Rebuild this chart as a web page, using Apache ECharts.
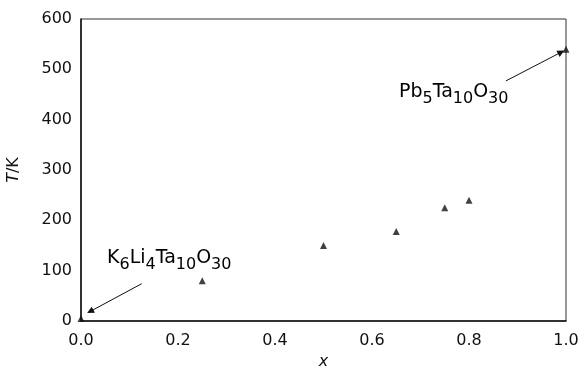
<!DOCTYPE html>
<html>
<head>
<meta charset="utf-8">
<script src="https://cdn.jsdelivr.net/npm/echarts@6/dist/echarts.min.js"></script>
<style>
  html, body { margin: 0; padding: 0; background: #fff; }
  #main { width: 586px; height: 370px; }
</style>
</head>
<body>
<div id="main"></div>
<script>
// composition x vs transition temperature
var xValues = [0, 0.25, 0.5, 0.65, 0.75, 0.8, 1.0];
var tValues = [5, 80, 150, 178, 225, 240, 540];

// annotation arrows, [from, to] in data units
var arrowK = [[0.125, 74], [0.019, 19]];
var arrowPb = [[0.876, 477], [0.99, 534]];

var FONT = '"DejaVu Sans", sans-serif';
var INK = '#111';

var chart = echarts.init(document.getElementById('main'));

var points = xValues.map(function (x, i) { return [x, tValues[i]]; });

var richStyle = {
  n: { fontSize: 19, fontFamily: FONT, color: INK, verticalAlign: 'top', lineHeight: 26 },
  s: { fontSize: 16, fontFamily: FONT, color: INK, verticalAlign: 'top', lineHeight: 26, padding: [8, 0, 0, 0] }
};

var option = {
  animation: false,
  backgroundColor: '#fff',
  grid: {
    left: 81, right: 20, top: 19, bottom: 49,
    outerBoundsMode: 'none',
    show: true, borderColor: '#333', borderWidth: 1, backgroundColor: 'transparent'
  },
  xAxis: {
    type: 'value', min: 0, max: 1, interval: 0.2,
    name: 'x', nameLocation: 'middle', nameGap: 30,
    nameTextStyle: { fontFamily: FONT, fontSize: 16, fontStyle: 'italic', color: INK },
    axisLine: { lineStyle: { color: INK, width: 1.5 } },
    axisTick: { show: false },
    splitLine: { show: false },
    axisLabel: {
      fontFamily: FONT, fontSize: 16, color: INK, margin: 12,
      formatter: function (v) { return v.toFixed(1); }
    }
  },
  yAxis: {
    type: 'value', min: 0, max: 600, interval: 100,
    name: '{i|T}/K', nameLocation: 'middle', nameGap: 59,
    nameTextStyle: {
      fontFamily: FONT, fontSize: 16, color: INK,
      rich: { i: { fontFamily: FONT, fontSize: 16, fontStyle: 'italic', color: INK } }
    },
    axisLine: { lineStyle: { color: INK, width: 1.5 } },
    axisTick: { show: false },
    splitLine: { show: false },
    axisLabel: { fontFamily: FONT, fontSize: 16, color: INK, margin: 9 }
  },
  series: [{
    type: 'scatter',
    data: points,
    symbol: 'triangle',
    symbolSize: 7,
    itemStyle: { color: INK },
    markLine: {
      silent: true,
      symbol: ['none', 'triangle'],
      symbolSize: 7,
      label: { show: false },
      lineStyle: { color: INK, width: 1, type: 'solid' },
      data: [
        [{ coord: arrowK[0] }, { coord: arrowK[1] }],
        [{ coord: arrowPb[0] }, { coord: arrowPb[1] }]
      ]
    }
  }],
  graphic: [
    {
      type: 'text', left: 107, top: 249,
      style: {
        text: '{n|K}{s|6}{n|Li}{s|4}{n|Ta}{s|10}{n|O}{s|30}',
        rich: richStyle
      }
    },
    {
      type: 'text', left: 399, top: 83,
      style: {
        text: '{n|Pb}{s|5}{n|Ta}{s|10}{n|O}{s|30}',
        rich: richStyle
      }
    }
  ]
};

chart.setOption(option);
</script>
</body>
</html>
